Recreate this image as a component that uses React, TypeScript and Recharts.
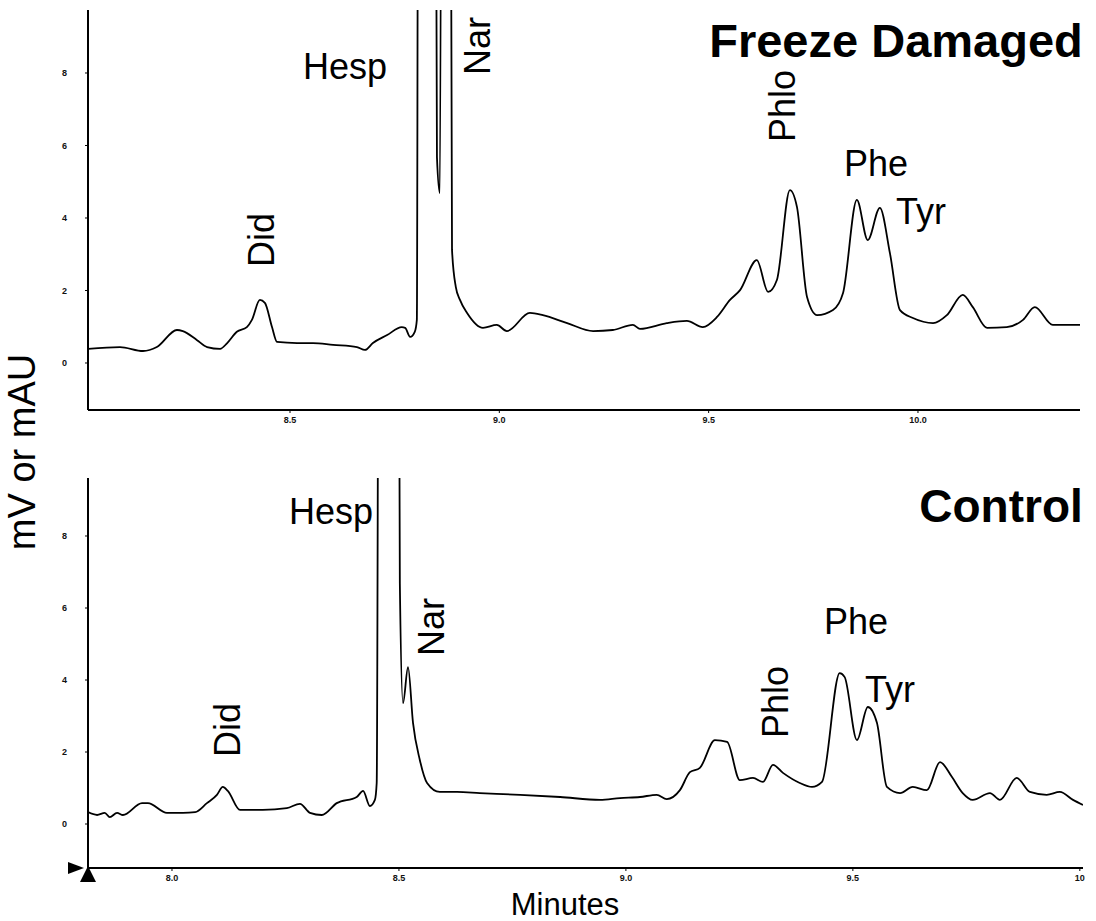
import { LineChart, Line, XAxis, YAxis } from 'recharts'

const FONT = '"Liberation Sans", Arial, Helvetica, sans-serif'

// Freeze damaged run (minutes, mV)
const fdMinutes = [
  8.018, 8.094, 8.149, 8.182, 8.23, 8.244, 8.278, 8.302, 8.333, 8.35, 8.373, 8.397, 8.409, 8.428, 8.44, 8.457,
  8.469, 8.517, 8.555, 8.603, 8.66, 8.679, 8.698, 8.732, 8.767, 8.775, 8.787, 8.798, 8.803, 8.808, 8.844, 8.851,
  8.858, 8.865, 8.88, 8.887, 8.896, 8.906, 8.923, 8.961, 8.994, 9.018, 9.073, 9.104, 9.162, 9.224, 9.271, 9.319,
  9.336, 9.4, 9.448, 9.486, 9.52, 9.551, 9.575, 9.615, 9.642, 9.663, 9.694, 9.711, 9.735, 9.759, 9.797, 9.821,
  9.854, 9.88, 9.909, 9.933, 9.957, 9.988, 10.036, 10.069, 10.107, 10.131, 10.165, 10.212, 10.251, 10.279,
  10.322, 10.387,
]
const fdSignal = [
  0.39, 0.44, 0.33, 0.44, 0.91, 0.88, 0.63, 0.44, 0.39, 0.55, 0.86, 0.99, 1.19, 1.74, 1.66, 0.99,
  0.58, 0.55, 0.55, 0.5, 0.44, 0.36, 0.55, 0.77, 0.99, 0.97, 0.72, 0.86, 1.19, 30, 30, 5.68,
  4.69, 30, 30, 3.12, 2.1, 1.74, 1.38, 0.97, 1.05, 0.88, 1.38, 1.32, 1.1, 0.88, 0.91, 1.05,
  0.94, 1.1, 1.16, 0.99, 1.27, 1.74, 2.01, 2.84, 1.96, 2.29, 4.77, 4.3, 1.82, 1.32, 1.46, 1.93,
  4.5, 3.39, 4.28, 3.03, 1.46, 1.24, 1.1, 1.32, 1.88, 1.54, 0.97, 0.99, 1.19, 1.54,
  1.05, 1.05,
]

// Control run (minutes, mV)
const ctlMinutes = [
  7.815, 7.835, 7.852, 7.863, 7.879, 7.892, 7.934, 7.947, 7.989, 8.024, 8.051, 8.077, 8.099, 8.112, 8.123, 8.15,
  8.2, 8.253, 8.282, 8.304, 8.33, 8.363, 8.407, 8.421, 8.436, 8.447, 8.451, 8.458, 8.496, 8.502, 8.509, 8.52,
  8.531, 8.546, 8.562, 8.59, 8.628, 8.678, 8.767, 8.855, 8.943, 8.987, 9.031, 9.068, 9.09, 9.119, 9.141, 9.163,
  9.196, 9.223, 9.251, 9.28, 9.302, 9.324, 9.346, 9.383, 9.41, 9.432, 9.471, 9.482, 9.509, 9.533, 9.553, 9.575,
  9.604, 9.632, 9.663, 9.692, 9.718, 9.742, 9.764, 9.802, 9.824, 9.861, 9.89, 9.927, 9.956, 9.985, 10.007,
]
const ctlSignal = [
  0.33, 0.25, 0.31, 0.19, 0.31, 0.25, 0.58, 0.58, 0.31, 0.31, 0.33, 0.58, 0.81, 1.03, 0.92, 0.39,
  0.39, 0.44, 0.56, 0.31, 0.25, 0.58, 0.75, 0.92, 0.5, 0.67, 1.14, 30, 30, 6.69, 3.36, 4.36,
  2.81, 1.78, 1.14, 0.89, 0.89, 0.86, 0.81, 0.75, 0.67, 0.72, 0.75, 0.81, 0.69, 0.94, 1.44, 1.56,
  2.33, 2.28, 1.22, 1.28, 1.17, 1.64, 1.42, 1.14, 1.03, 1.17, 4.19, 4.08, 2.33, 3.25, 2.81, 1.03,
  0.86, 1.03, 0.94, 1.72, 1.31, 0.86, 0.67, 0.86, 0.67, 1.28, 0.89, 0.81, 0.89, 0.67, 0.53,
]

const fdTicks = [8.5, 9, 9.5, 10]
const fdTickLabels = ['8.5', '9.0', '9.5', '10.0']
const ctlTicks = [8, 8.5, 9, 9.5, 10]
const ctlTickLabels = ['8.0', '8.5', '9.0', '9.5', '10']
const yTicks = [0, 2, 4, 6, 8]

const fdData = fdMinutes.map((t, i) => ({ t, v: fdSignal[i] }))
const ctlData = ctlMinutes.map((t, i) => ({ t, v: ctlSignal[i] }))

const tickStyle = { fontSize: 9, fontWeight: 700, fill: '#111', fontFamily: FONT }

function Trace({ data, xDomain, yDomain, xTicks, xLabels, top, height, right }: any) {
  return (
    <LineChart
      width={1096}
      height={height}
      data={data}
      margin={{ top: 10, right, bottom: 0, left: 58 }}
      style={{ position: 'absolute', left: 0, top }}
    >
      <XAxis
        type="number"
        dataKey="t"
        domain={xDomain}
        allowDataOverflow
        ticks={xTicks}
        tickFormatter={(v: number) => xLabels[xTicks.indexOf(v)] ?? ''}
        height={30}
        tickSize={3}
        tickMargin={4}
        tick={tickStyle}
        axisLine={{ stroke: '#000', strokeWidth: 2 }}
        tickLine={{ stroke: '#000' }}
      />
      <YAxis
        type="number"
        domain={yDomain}
        allowDataOverflow
        ticks={yTicks}
        width={30}
        tickSize={3}
        tickMargin={18}
        tick={tickStyle}
        axisLine={{ stroke: '#000', strokeWidth: 2 }}
        tickLine={{ stroke: '#000' }}
      />
      <Line type="monotone" dataKey="v" stroke="#000" strokeWidth={1.8} dot={false} isAnimationActive={false} />
    </LineChart>
  )
}

function Tag({ x, y, size = 36, bold = false, rotate = false, children }: any) {
  return (
    <div
      style={{
        position: 'absolute',
        left: x,
        top: y,
        transform: `translate(-50%, -50%)${rotate ? ' rotate(-90deg)' : ''}`,
        fontFamily: FONT,
        fontSize: size,
        fontWeight: bold ? 700 : 400,
        whiteSpace: 'nowrap',
        lineHeight: 1,
        color: '#000',
      }}
    >
      {children}
    </div>
  )
}

export default function App() {
  return (
    <div style={{ position: 'fixed', left: 0, top: 0, width: 1096, height: 921, background: '#fff', overflow: 'hidden' }}>
      <Trace
        data={fdData}
        xDomain={[8.0175, 10.387]}
        yDomain={[-1.297, 9.738]}
        xTicks={fdTicks}
        xLabels={fdTickLabels}
        top={0}
        height={440}
        right={16}
      />
      <Trace
        data={ctlData}
        xDomain={[7.815, 10.007]}
        yDomain={[-1.222, 9.611]}
        xTicks={ctlTicks}
        xLabels={ctlTickLabels}
        top={468}
        height={430}
        right={13}
      />

      {/* Freeze damaged annotations */}
      <Tag x={896} y={40} size={47} bold>Freeze Damaged</Tag>
      <Tag x={345} y={67}>Hesp</Tag>
      <Tag x={478} y={46} rotate>Nar</Tag>
      <Tag x={783} y={106} rotate>Phlo</Tag>
      <Tag x={876} y={164}>Phe</Tag>
      <Tag x={921} y={212}>Tyr</Tag>
      <Tag x={262} y={240} rotate>Did</Tag>

      {/* Control annotations */}
      <Tag x={1001} y={506} size={46} bold>Control</Tag>
      <Tag x={331} y={512}>Hesp</Tag>
      <Tag x={432} y={627} rotate>Nar</Tag>
      <Tag x={776} y={702} rotate>Phlo</Tag>
      <Tag x={856} y={622}>Phe</Tag>
      <Tag x={890} y={690}>Tyr</Tag>
      <Tag x={228} y={730} rotate>Did</Tag>

      {/* axis titles */}
      <Tag x={22} y={452} size={38} rotate>mV or mAU</Tag>
      <Tag x={565} y={904} size={31}>Minutes</Tag>

      {/* injection marker at the origin */}
      <div style={{ position: 'absolute', left: 68, top: 862, width: 0, height: 0, borderTop: '6px solid transparent', borderBottom: '6px solid transparent', borderLeft: '16px solid #000' }} />
      <div style={{ position: 'absolute', left: 80, top: 866, width: 0, height: 0, borderLeft: '8px solid transparent', borderRight: '8px solid transparent', borderBottom: '16px solid #000' }} />
    </div>
  )
}
